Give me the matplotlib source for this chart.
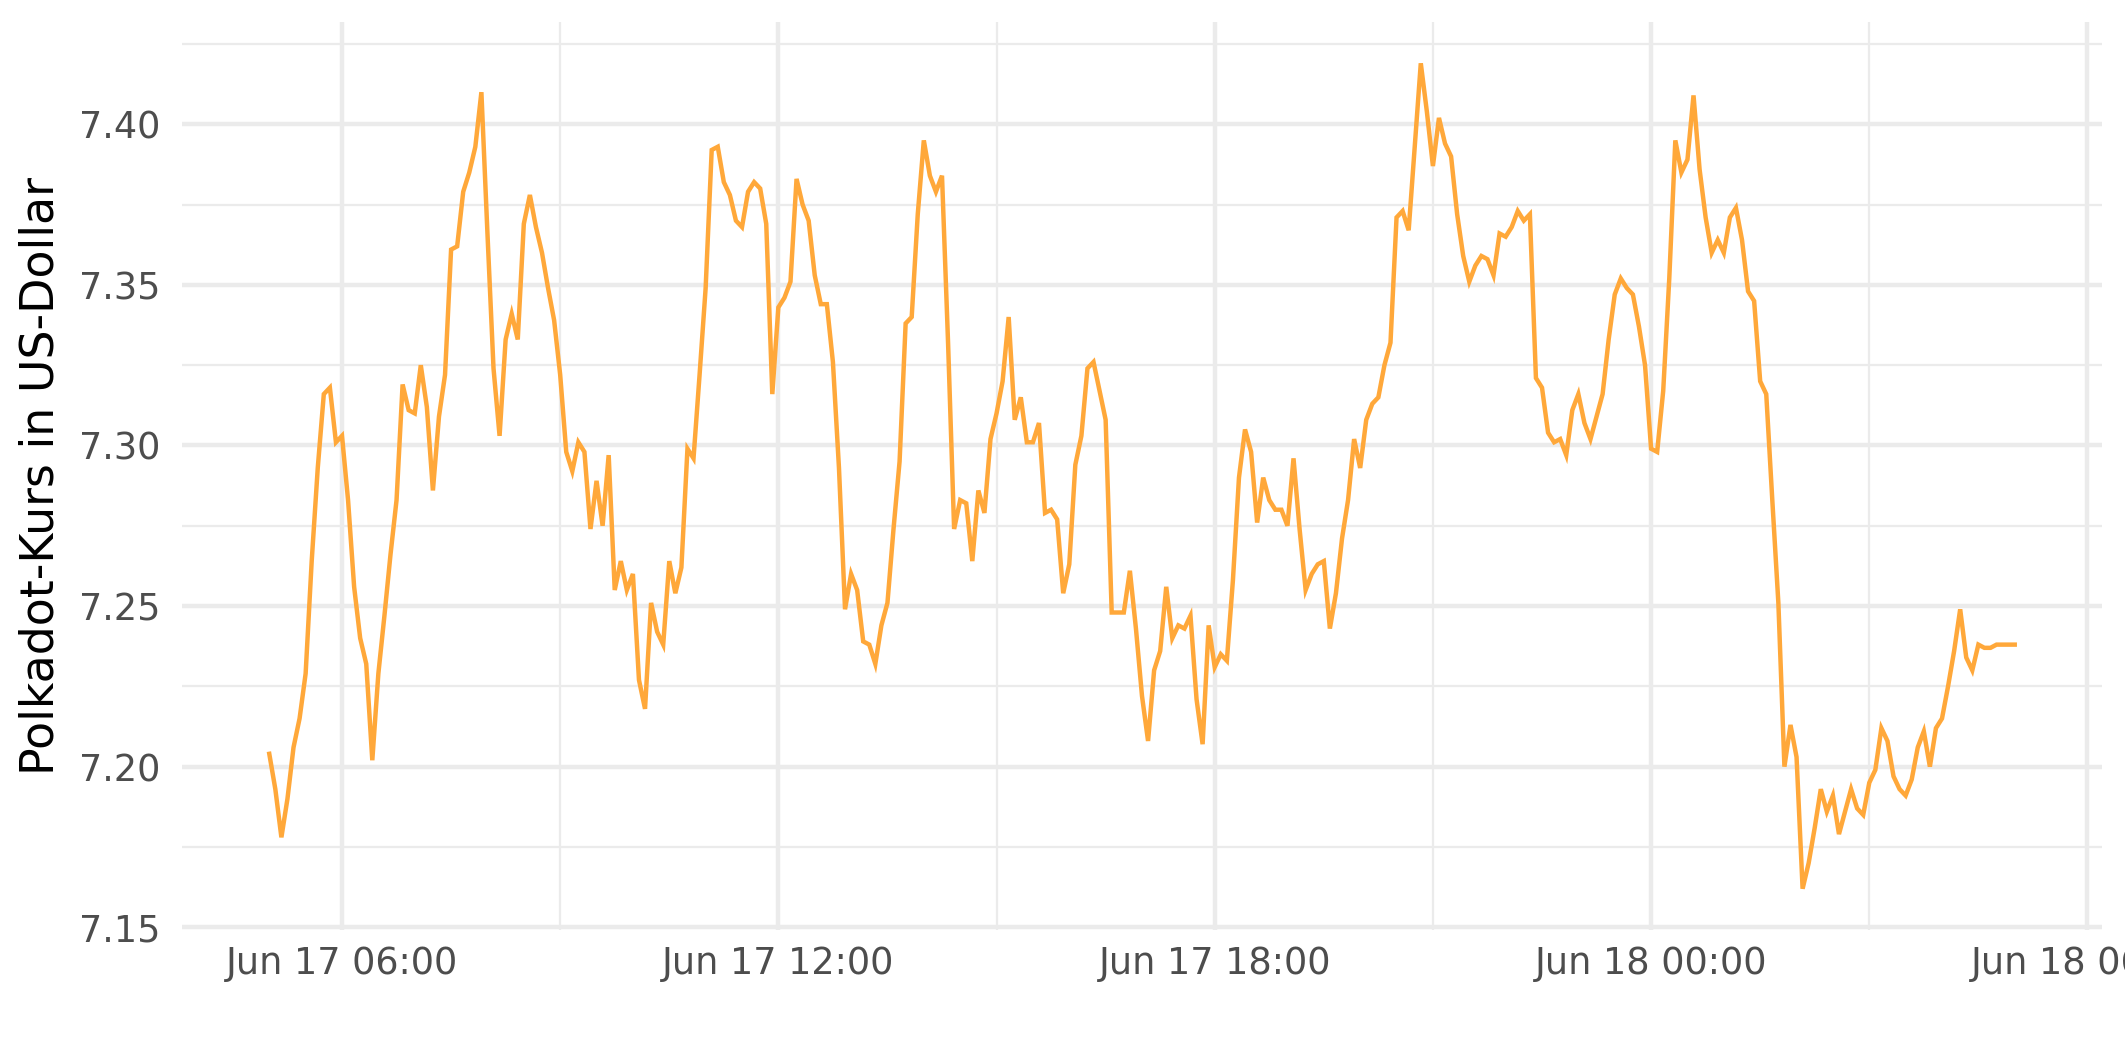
import matplotlib
matplotlib.use("Agg")
import matplotlib.pyplot as plt
import matplotlib.dates as mdates
import numpy as np
import pandas as pd

# ---- data: Polkadot price, 5-minute steps, Jun 17 05:00 -> Jun 18 05:00 ----
start_time = "2024-06-17 05:00"
step_minutes = 5
prices = [
    7.204, 7.193, 7.178, 7.190, 7.206, 7.215, 7.229, 7.264, 7.293, 7.316,
    7.318, 7.301, 7.303, 7.283, 7.256, 7.240, 7.232, 7.202, 7.229, 7.247,
    7.266, 7.283, 7.319, 7.311, 7.310, 7.325, 7.312, 7.286, 7.309, 7.322,
    7.361, 7.362, 7.379, 7.385, 7.393, 7.410, 7.366, 7.324, 7.303, 7.333,
    7.341, 7.333, 7.369, 7.378, 7.368, 7.360, 7.349, 7.339, 7.322, 7.298,
    7.292, 7.301, 7.298, 7.274, 7.289, 7.275, 7.297, 7.255, 7.264, 7.255,
    7.260, 7.227, 7.218, 7.251, 7.242, 7.238, 7.264, 7.254, 7.262, 7.299,
    7.296, 7.322, 7.349, 7.392, 7.393, 7.382, 7.378, 7.370, 7.368, 7.379,
    7.382, 7.380, 7.369, 7.316, 7.343, 7.346, 7.351, 7.383, 7.375, 7.370,
    7.353, 7.344, 7.344, 7.326, 7.293, 7.249, 7.260, 7.255, 7.239, 7.238,
    7.232, 7.244, 7.251, 7.274, 7.295, 7.338, 7.340, 7.372, 7.395, 7.384,
    7.379, 7.384, 7.332, 7.274, 7.283, 7.282, 7.264, 7.286, 7.279, 7.302,
    7.310, 7.320, 7.340, 7.308, 7.315, 7.301, 7.301, 7.307, 7.279, 7.280,
    7.277, 7.254, 7.263, 7.294, 7.303, 7.324, 7.326, 7.317, 7.308, 7.248,
    7.248, 7.248, 7.261, 7.243, 7.222, 7.208, 7.230, 7.236, 7.256, 7.240,
    7.244, 7.243, 7.247, 7.221, 7.207, 7.244, 7.231, 7.235, 7.233, 7.258,
    7.290, 7.305, 7.298, 7.276, 7.290, 7.283, 7.280, 7.280, 7.275, 7.296,
    7.274, 7.255, 7.260, 7.263, 7.264, 7.243, 7.254, 7.271, 7.283, 7.302,
    7.293, 7.308, 7.313, 7.315, 7.325, 7.332, 7.371, 7.373, 7.367, 7.393,
    7.419, 7.404, 7.387, 7.402, 7.394, 7.390, 7.372, 7.359, 7.351, 7.356,
    7.359, 7.358, 7.353, 7.366, 7.365, 7.368, 7.373, 7.370, 7.372, 7.321,
    7.318, 7.304, 7.301, 7.302, 7.297, 7.311, 7.316, 7.307, 7.302, 7.309,
    7.316, 7.333, 7.347, 7.352, 7.349, 7.347, 7.337, 7.325, 7.299, 7.298,
    7.317, 7.352, 7.395, 7.385, 7.389, 7.409, 7.386, 7.371, 7.360, 7.364,
    7.360, 7.371, 7.374, 7.364, 7.348, 7.345, 7.320, 7.316, 7.283, 7.251,
    7.200, 7.213, 7.203, 7.162, 7.170, 7.181, 7.193, 7.186, 7.191, 7.179,
    7.186, 7.193, 7.187, 7.185, 7.195, 7.199, 7.212, 7.208, 7.197, 7.193,
    7.191, 7.196, 7.206, 7.211, 7.200, 7.212, 7.215, 7.225, 7.236, 7.249,
    7.234, 7.230, 7.238, 7.237, 7.237, 7.238, 7.238, 7.238, 7.238,
]
times = pd.date_range(start_time, periods=len(prices), freq=f"{step_minutes}min")

y_label = "Polkadot-Kurs in US-Dollar"
y_ticks = [7.15, 7.20, 7.25, 7.30, 7.35, 7.40]
y_minor = [7.175, 7.225, 7.275, 7.325, 7.375, 7.425]
x_major = pd.to_datetime(["2024-06-17 06:00", "2024-06-17 12:00", "2024-06-17 18:00",
                          "2024-06-18 00:00", "2024-06-18 06:00"])
x_minor = pd.to_datetime(["2024-06-17 09:00", "2024-06-17 15:00", "2024-06-17 21:00",
                          "2024-06-18 03:00"])

# ---- figure ----
plt.rcParams["font.family"] = ["DejaVu Sans"]
fig = plt.figure(figsize=(2125 / 300, 1062 / 300), dpi=300)
ax = fig.add_axes([182 / 2125, 1 - 930 / 1062, (2102 - 182) / 2125, (930 - 22) / 1062])

grid_col = "#EBEBEB"
ax.plot(times, prices, color="#FFA83A", linewidth=1.07, solid_joinstyle="miter",
        zorder=3)

# limits with 5% expansion (ggplot style)
t0, t1 = times[0], times[-1]
span = t1 - t0
ax.set_xlim(t0 - span * 0.05, t1 + span * 0.05)
pmin, pmax = min(prices), max(prices)
pr = pmax - pmin
ax.set_ylim(pmin - pr * 0.05, pmax + pr * 0.05)

ax.set_xticks(x_major)
ax.set_xticks(x_minor, minor=True)
ax.xaxis.set_major_formatter(mdates.DateFormatter("%b %d %H:%M"))
ax.set_yticks(y_ticks)
ax.set_yticks([v for v in y_minor if v < pmax + pr * 0.05], minor=True)
ax.yaxis.set_major_formatter(matplotlib.ticker.FormatStrFormatter("%.2f"))

ax.grid(which="major", color=grid_col, linewidth=1.07, zorder=0)
ax.grid(which="minor", color=grid_col, linewidth=0.53, zorder=0)
ax.set_axisbelow(True)

for s in ax.spines.values():
    s.set_visible(False)
ax.tick_params(which="both", length=0)
ax.tick_params(axis="x", labelsize=8.8, labelcolor="#4D4D4D", pad=3.6)
ax.tick_params(axis="y", labelsize=8.8, labelcolor="#4D4D4D", pad=5.2)
for lab in ax.get_xticklabels():
    lab.set_clip_on(False)

ax.set_ylabel(y_label, fontsize=11, color="black")
ax.yaxis.set_label_coords(-0.0615, 0.5)

fig.savefig("out.png", dpi=300, facecolor="white")
